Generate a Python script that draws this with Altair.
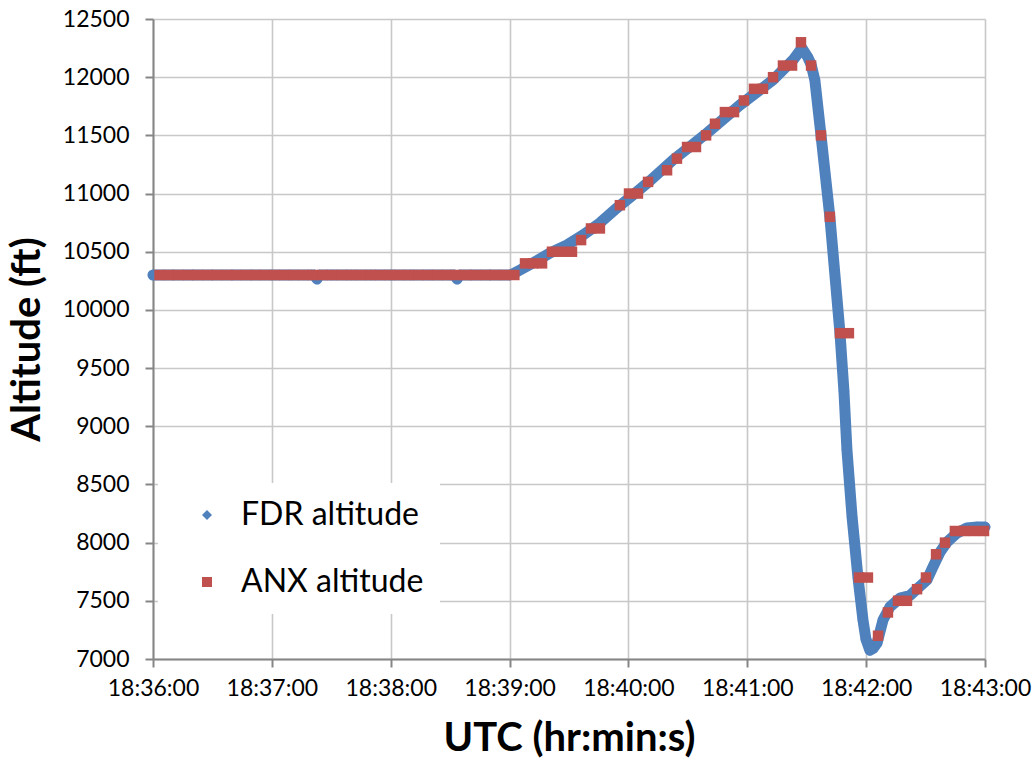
import altair as alt
import pandas as pd

# ---------------- data (seconds after 18:36:00, altitude in ft) ----------------
X_TICK_LABELS = ["18:36:00", "18:37:00", "18:38:00", "18:39:00",
                 "18:40:00", "18:41:00", "18:42:00", "18:43:00"]
X_TICK_SECONDS = [0, 60, 120, 180, 240, 300, 360, 420]
Y_TICKS = [7000, 7500, 8000, 8500, 9000, 9500, 10000, 10500,
           11000, 11500, 12000, 12500]

FDR_T = [0, 10, 20, 30, 40, 50, 60, 70, 80, 81.5, 82.8, 84, 90, 100, 110,
         120, 130, 140, 150, 152.2, 153.5, 154.8, 160, 170, 180,
         181.2, 185.3, 191.8, 200.4, 209.0, 217.1, 225.6, 234.2, 242.3,
         250.9, 262.5, 279.7, 296.3, 313.0, 323.1, 327.6, 330.6, 332.2,
         334.1, 337.2, 341.7, 346.8, 348.8, 350.3, 352.9, 355.9, 358.4,
         359.9, 361.9, 363.5, 365.5, 368.5, 372.0, 377.1, 382.1, 386.2,
         390.7, 393.7, 397.3, 400.8, 405.9, 410.9, 416.0, 420.0]
FDR_ALT = [10300, 10300, 10300, 10300, 10300, 10300, 10300, 10300, 10300,
           10300, 10265, 10300, 10300, 10300, 10300, 10300, 10300, 10300,
           10300, 10300, 10265, 10300, 10300, 10300, 10300,
           10305, 10343, 10403, 10489, 10558, 10644, 10747, 10876, 10988,
           11110, 11288, 11520, 11761, 11976, 12148, 12250, 12170, 12110,
           11976, 11503, 10798, 9800, 9300, 8800, 8220, 7696, 7335,
           7170, 7075, 7090, 7137, 7335, 7447, 7524, 7545, 7610,
           7679, 7790, 7919, 8005, 8083, 8126, 8134, 8134]

ANX_T = [3.3, 8.1, 13.0, 17.8, 22.7, 27.5, 32.3, 37.2, 42.0, 46.9, 51.7,
         56.5, 61.4, 66.2, 71.1, 75.9, 80.7, 85.6, 90.4, 95.3, 100.1, 104.9,
         109.8, 114.6, 119.5, 124.3, 129.1, 134.0, 138.8, 143.7, 148.5,
         153.3, 158.2, 163.0, 167.9, 172.7, 177.5, 182.4,
         187.8, 191.8, 196.4, 201.4, 206.5, 211.5, 216.1, 221.1, 225.6,
         235.7, 240.3, 244.8, 249.9, 259.5, 264.5, 269.6, 274.1, 279.2,
         283.7, 288.7, 293.3, 298.3, 303.4, 307.9, 313.0, 318.0, 322.6,
         327.1, 332.2, 337.2, 341.7, 346.8, 351.3, 356.4, 360.9, 366.0,
         371.0, 376.1, 380.6, 385.7, 390.2, 395.3, 399.8, 404.8, 409.4,
         414.4, 419.5]
ANX_ALT = [10300] * 38 + [
    10400, 10400, 10400, 10500, 10500, 10500, 10600, 10700, 10700,
    10900, 11000, 11000, 11100, 11200, 11300, 11400, 11400, 11500,
    11600, 11700, 11700, 11800, 11900, 11900, 12000, 12100, 12100,
    12300, 12100, 11500, 10800, 9800, 9800, 7700, 7700, 7200,
    7400, 7500, 7500, 7600, 7700, 7900, 8000, 8100, 8100,
    8100, 8100]

SERIES = ["FDR altitude", "ANX altitude"]
COLORS = ["#4F81BD", "#C0504D"]
SHAPES = ["diamond", "square"]

fdr = pd.DataFrame({"t": FDR_T, "alt": FDR_ALT, "series": SERIES[0]})
anx = pd.DataFrame({"t": ANX_T, "alt": ANX_ALT, "series": SERIES[1]})

FONT = "Lato"

x_enc = alt.X(
    "t:Q",
    scale=alt.Scale(domain=[0, 420], nice=False, zero=False),
    axis=alt.Axis(
        values=X_TICK_SECONDS,
        labelExpr=f"{X_TICK_LABELS}[round(datum.value / 60)]",
        labelOverlap=False,
        labelFlush=False,
        title="UTC (hr:min:s)",
    ),
)
y_enc = alt.Y(
    "alt:Q",
    scale=alt.Scale(domain=[7000, 12500], nice=False, zero=False),
    axis=alt.Axis(values=Y_TICKS, format="d", labelOverlap=False,
                  labelFlush=False, title="Altitude (ft)"),
)

legend = alt.Legend(title=None, orient="none", legendX=5, legendY=464,
                    direction="vertical")
color_enc = alt.Color("series:N", scale=alt.Scale(domain=SERIES, range=COLORS),
                      legend=legend)
shape_enc = alt.Shape("series:N", scale=alt.Scale(domain=SERIES, range=SHAPES),
                      legend=legend)

fdr_line = alt.Chart(fdr).mark_line(
    color=COLORS[0], strokeWidth=11, strokeJoin="round", strokeCap="round"
).encode(x=x_enc, y=y_enc)

fdr_pts = alt.Chart(fdr).mark_point(filled=True, size=120, opacity=1).encode(
    x=x_enc, y=y_enc, color=color_enc, shape=shape_enc)

anx_pts = alt.Chart(anx).mark_point(filled=True, size=110, opacity=1).encode(
    x=x_enc, y=y_enc, color=color_enc, shape=shape_enc)

chart = (
    alt.layer(fdr_line, fdr_pts, anx_pts)
    .properties(
        width=832,
        height=640,
        autosize=alt.AutoSizeParams(type="none"),
        padding={"left": 153, "top": 19, "right": 51, "bottom": 102},
        background="white",
    )
    .configure_view(stroke=None)
    .configure_axis(
        domainColor="#868686",
        domainWidth=2,
        tickColor="#868686",
        tickWidth=2,
        tickSize=8,
        gridColor="#c8c8c8",
        gridWidth=1.6,
        labelFont=FONT,
        labelFontSize=23,
        labelColor="black",
        titleFont=FONT,
        titleFontSize=40,
        titleFontWeight="bold",
        titleColor="black",
    )
    .configure_axisY(labelPadding=16, titlePadding=15)
    .configure_axisX(labelPadding=10, titlePadding=18)
    .configure_legend(
        fillColor="white",
        padding=16,
        labelFont=FONT,
        labelFontSize=32,
        labelColor="black",
        labelLimit=500,
        symbolSize=100,
        symbolOffset=17,
        labelOffset=18,
        rowPadding=35,
        symbolStrokeWidth=0,
    )
)

chart.save("out.html", embed_options={"renderer": "svg", "actions": False})
